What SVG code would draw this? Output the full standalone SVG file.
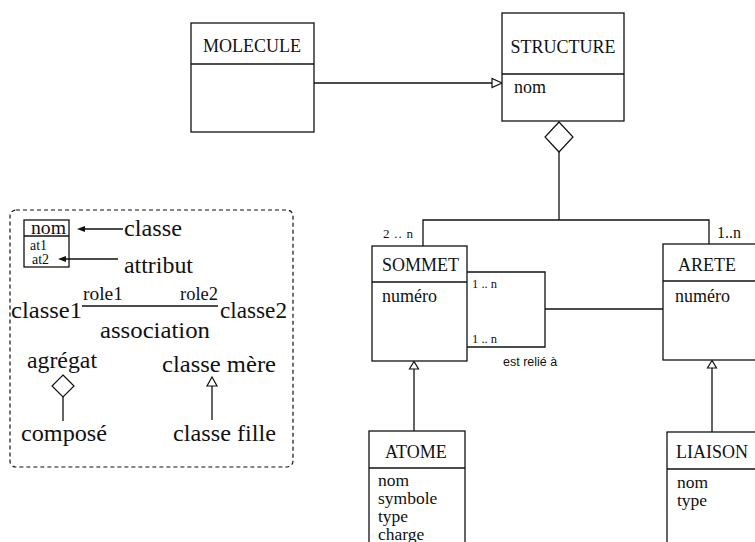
<svg xmlns="http://www.w3.org/2000/svg" width="755" height="542" viewBox="0 0 755 542">
<style>
.box{fill:#fff;stroke:#111;stroke-width:1.3}
.ln{fill:none;stroke:#111;stroke-width:1.3}
.hol{fill:#fff;stroke:#111;stroke-width:1.2}
.fil{fill:#111;stroke:none}
.t{font-family:"Liberation Serif","Times New Roman",serif;fill:#111;font-size:18px}
.s{font-family:"Liberation Sans",Arial,sans-serif;fill:#111;font-size:12.5px}
.lg{font-family:"Liberation Serif","Times New Roman",serif;fill:#111;font-size:24px}
</style>
<rect width="755" height="542" fill="#fff"/>

<g id="connectors">
  <!-- MOLECULE -> STRUCTURE generalization -->
  <line class="ln" x1="314" y1="83" x2="492" y2="83"/>
  <polygon class="hol" points="502,83 492,78.5 492,87.5"/>
  <!-- aggregation diamond -->
  <polygon class="hol" points="559,122 573,137 559,152 545,137"/>
  <polyline class="ln" points="559,152 559,220"/>
  <polyline class="ln" points="423,246 423,220 709,220 709,244"/>
  <text class="t" x="383" y="238" style="font-size:13px" textLength="30" lengthAdjust="spacing">2 .. n</text>
  <text class="t" x="717" y="238" style="font-size:16px">1..n</text>
  <!-- self association -->
  <polyline class="ln" points="467,272 545,272 545,347 467,347"/>
  <line class="ln" x1="545" y1="309" x2="663" y2="309"/>
  <text class="t" x="472" y="288" style="font-size:12.5px">1 .. n</text>
  <text class="t" x="472" y="343" style="font-size:12.5px">1 .. n</text>
  <text class="s" x="503" y="366">est relié à</text>
  <!-- ATOME -> SOMMET -->
  <line class="ln" x1="414" y1="369" x2="414" y2="431"/>
  <polygon class="hol" points="414,361.5 409.5,369 418.5,369"/>
  <!-- LIAISON -> ARETE -->
  <line class="ln" x1="712" y1="368" x2="712" y2="432"/>
  <polygon class="hol" points="712,360.5 707.5,368 716.5,368"/>
</g>

<g id="molecule">
  <rect class="box" x="191" y="23" width="123" height="109"/>
  <line class="ln" x1="191" y1="64" x2="314" y2="64"/>
  <text class="t" x="252" y="52" text-anchor="middle">MOLECULE</text>
</g>

<g id="structure">
  <rect class="box" x="502" y="13" width="122" height="108"/>
  <line class="ln" x1="502" y1="74" x2="624" y2="74"/>
  <text class="t" x="563" y="53" text-anchor="middle">STRUCTURE</text>
  <text class="t" x="514" y="93">nom</text>
</g>

<g id="sommet">
  <rect class="box" x="372" y="246" width="95" height="115"/>
  <line class="ln" x1="372" y1="282" x2="467" y2="282"/>
  <text class="t" x="382" y="271">SOMMET</text>
  <text class="t" x="382" y="302">numéro</text>
</g>

<g id="arete">
  <rect class="box" x="663" y="244" width="100" height="116"/>
  <line class="ln" x1="663" y1="281" x2="763" y2="281"/>
  <text class="t" x="678" y="271">ARETE</text>
  <text class="t" x="675" y="302">numéro</text>
</g>

<g id="atome">
  <rect class="box" x="369" y="431" width="96" height="130"/>
  <line class="ln" x1="369" y1="468" x2="465" y2="468"/>
  <text class="t" x="385" y="458">ATOME</text>
  <text class="t" x="378" y="486" style="font-size:17.5px">nom</text>
  <text class="t" x="378" y="504" style="font-size:17.5px">symbole</text>
  <text class="t" x="378" y="522" style="font-size:17.5px">type</text>
  <text class="t" x="378" y="540" style="font-size:17.5px">charge</text>
</g>

<g id="liaison">
  <rect class="box" x="667" y="432" width="100" height="130"/>
  <line class="ln" x1="667" y1="469" x2="767" y2="469"/>
  <text class="t" x="676" y="458">LIAISON</text>
  <text class="t" x="677" y="488" style="font-size:17.5px">nom</text>
  <text class="t" x="677" y="506" style="font-size:17.5px">type</text>
</g>

<g id="legend">
  <rect x="10" y="210" width="283" height="257" rx="6" fill="none" stroke="#111" stroke-width="1.2" stroke-dasharray="4,3"/>
  <rect class="box" x="24" y="220" width="45" height="47"/>
  <line class="ln" x1="24" y1="236" x2="69" y2="236"/>
  <text class="t" x="31" y="234" style="font-size:19px" textLength="35" lengthAdjust="spacingAndGlyphs">nom</text>
  <text class="t" x="30" y="250" style="font-size:15.5px" textLength="17" lengthAdjust="spacingAndGlyphs">at1</text>
  <text class="t" x="32" y="263.5" style="font-size:15.5px" textLength="17" lengthAdjust="spacingAndGlyphs">at2</text>
  <line class="ln" x1="84" y1="229" x2="123" y2="229"/>
  <polygon class="fil" points="77,229 85,226 85,232"/>
  <text class="lg" x="124" y="236" textLength="58" lengthAdjust="spacingAndGlyphs">classe</text>
  <line class="ln" x1="65" y1="259" x2="118" y2="259"/>
  <polygon class="fil" points="58,259 66,256 66,262"/>
  <text class="lg" x="124" y="273" textLength="69" lengthAdjust="spacingAndGlyphs">attribut</text>
  <text class="lg" x="11" y="318" textLength="71" lengthAdjust="spacingAndGlyphs">classe1</text>
  <text class="lg" x="83" y="300" style="font-size:19.5px" textLength="40" lengthAdjust="spacingAndGlyphs">role1</text>
  <text class="lg" x="180" y="300" style="font-size:19.5px" textLength="38" lengthAdjust="spacingAndGlyphs">role2</text>
  <line class="ln" x1="82" y1="306" x2="218" y2="306"/>
  <text class="lg" x="220" y="318" textLength="67" lengthAdjust="spacingAndGlyphs">classe2</text>
  <text class="lg" x="100" y="338" textLength="110" lengthAdjust="spacingAndGlyphs">association</text>
  <text class="lg" x="27" y="368" textLength="70" lengthAdjust="spacingAndGlyphs">agrégat</text>
  <polygon class="hol" points="63,375 74,386 63,397 52,386"/>
  <line class="ln" x1="63" y1="397" x2="63" y2="421"/>
  <text class="lg" x="21" y="441" textLength="86" lengthAdjust="spacingAndGlyphs">composé</text>
  <text class="lg" x="162" y="372" textLength="114" lengthAdjust="spacingAndGlyphs">classe mère</text>
  <polygon class="hol" points="212,377 207,386 217,386"/>
  <line class="ln" x1="212" y1="386" x2="212" y2="420"/>
  <text class="lg" x="173" y="441" textLength="103" lengthAdjust="spacingAndGlyphs">classe fille</text>
</g>
</svg>
